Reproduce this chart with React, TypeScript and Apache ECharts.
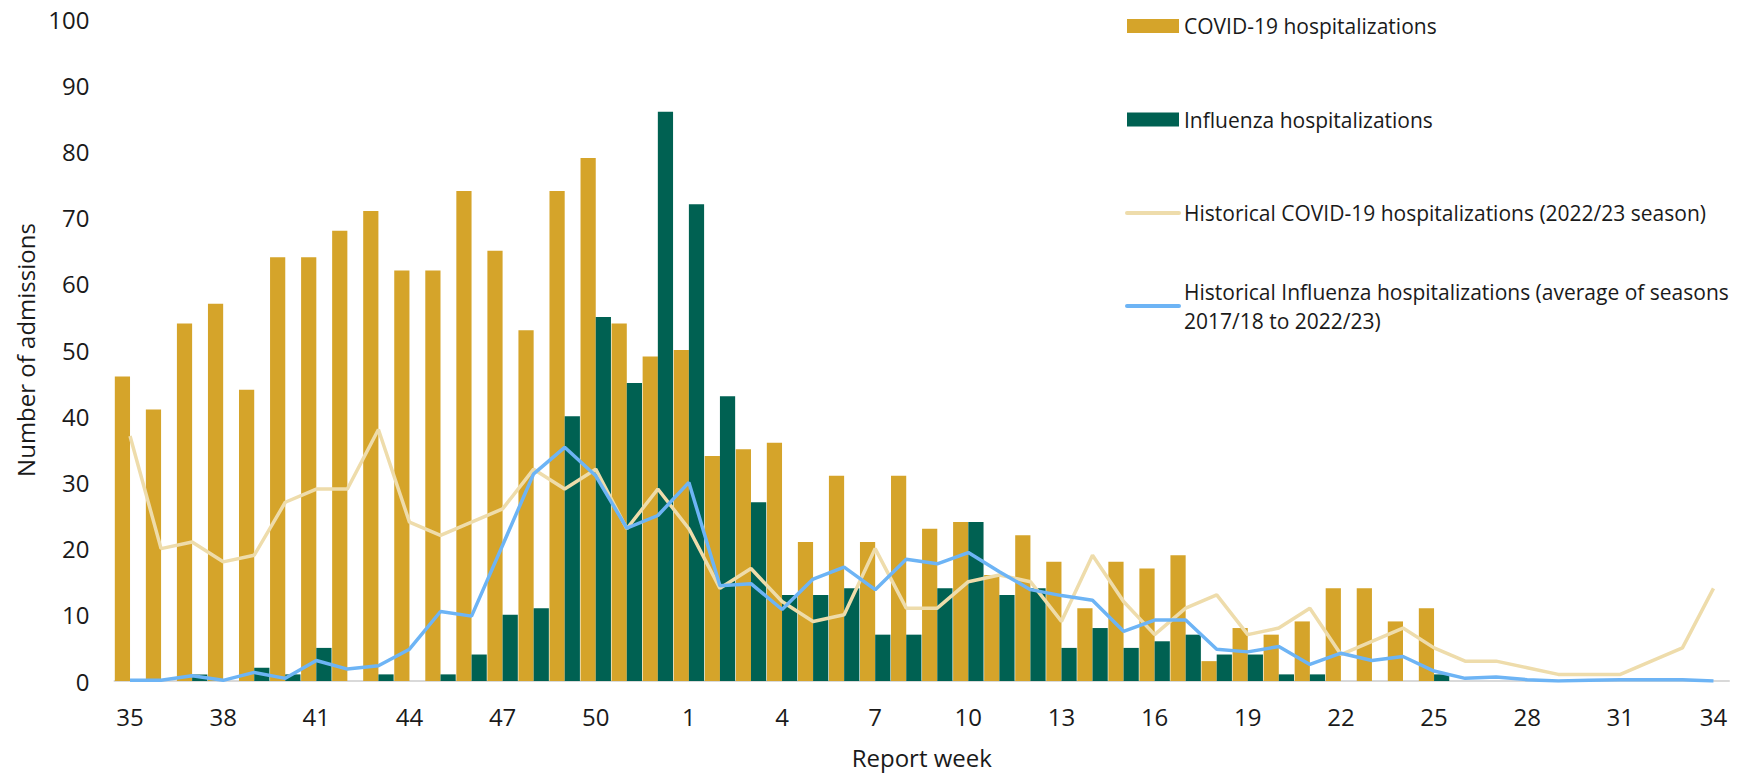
import React, { useEffect, useRef } from "react";
import * as echarts from "echarts";

const weeks = [
  "35", "36", "37", "38", "39", "40", "41", "42", "43", "44", "45", "46", "47", "48", "49", "50", "51", "52",
  "1", "2", "3", "4", "5", "6", "7", "8", "9", "10", "11", "12", "13", "14", "15", "16", "17", "18", "19", "20",
  "21", "22", "23", "24", "25", "26", "27", "28", "29", "30", "31", "32", "33", "34",
];

const covid = [
  46, 41, 54, 57, 44, 64, 64, 68, 71, 62, 62, 74, 65, 53, 74, 79, 54, 49,
  50, 34, 35, 36, 21, 31, 21, 31, 23, 24, 16, 22, 18, 11, 18, 17, 19, 3, 8, 7, 9, 14, 14, 9, 11,
  0, 0, 0, 0, 0, 0, 0, 0, 0,
];

const influenza = [
  0, 0, 1, 0, 2, 1, 5, 0, 1, 0, 1, 4, 10, 11, 40, 55, 45, 86,
  72, 43, 27, 13, 13, 14, 7, 7, 14, 24, 13, 14, 5, 8, 5, 6, 7, 4, 4, 1, 1, 0, 0, 0, 1,
  0, 0, 0, 0, 0, 0, 0, 0, 0,
];

const histCovid = [
  37, 20, 21, 18, 19, 27, 29, 29, 38, 24, 22, 24, 26, 32, 29, 32, 23, 29,
  23, 14, 17, 12, 9, 10, 20, 11, 11, 15, 16, 15, 9, 19, 12, 7, 11, 13, 7, 8, 11, 4, 6, 8, 5,
  3, 3, 2, 1, 1, 1, 3, 5, 14,
];

const histFlu = [
  0.1, 0.1, 0.8, 0.1, 1.3, 0.4, 3.1, 1.8, 2.3, 4.8, 10.5, 9.8, 20.5, 31.3, 35.3, 31, 23.1, 25,
  30, 14.4, 14.7, 10.8, 15.4, 17.2, 13.8, 18.4, 17.7, 19.4, 16.5, 13.8, 12.9, 12.2, 7.5, 9.2, 9.2, 4.8, 4.4, 5.2, 2.5, 4.2, 3.1, 3.7, 1.5,
  0.4, 0.6, 0.2, 0, 0.1, 0.2, 0.2, 0.2, 0,
];

const NAME_COVID = "COVID-19 hospitalizations";
const NAME_FLU = "Influenza hospitalizations";
const NAME_HCOVID = "Historical COVID-19 hospitalizations (2022/23 season)";
const NAME_HFLU = "Historical Influenza hospitalizations (average of seasons\n2017/18 to 2022/23)";

const FONT = "'Open Sans', 'Noto Sans', sans-serif";
const TEXT = "#1a1a1a";
const C_COVID = "#d5a42a";
const C_FLU = "#006152";
const C_HCOVID = "#eedcab";
const C_HFLU = "#6db4f5";

export default function App() {
  const ref = useRef<HTMLDivElement>(null);

  useEffect(() => {
    if (!ref.current) return;
    const chart = echarts.init(ref.current, null, { renderer: "svg" });
    const lineLegend = (name: string, color: string) => ({
      name,
      itemStyle: { opacity: 0 },
      lineStyle: { color, width: 4, cap: "round", opacity: 1 },
    });
    chart.setOption({
      animation: false,
      backgroundColor: "#ffffff",
      textStyle: { fontFamily: FONT, color: TEXT },
      grid: { left: 114.5, right: 25, top: 19, bottom: 89, containLabel: false },
      legend: [
        {
          orient: "vertical",
          left: 1125,
          top: 11.5,
          padding: 0,
          itemWidth: 52,
          itemHeight: 14,
          itemGap: 64.5,
          textStyle: { fontFamily: FONT, fontSize: 21, color: TEXT, lineHeight: 29 },
          data: [
            { name: NAME_COVID, icon: "rect" },
            { name: NAME_FLU, icon: "rect" },
            lineLegend(NAME_HCOVID, C_HCOVID),
          ],
        },
        {
          orient: "vertical",
          left: 1125,
          top: 262.5,
          padding: 0,
          itemWidth: 52,
          itemHeight: 14,
          textStyle: { fontFamily: FONT, fontSize: 21, color: TEXT, lineHeight: 29, padding: [29, 0, 0, 0] },
          data: [lineLegend(NAME_HFLU, C_HFLU)],
        },
      ],
      xAxis: {
        type: "category",
        data: weeks,
        boundaryGap: true,
        name: "Report week",
        nameLocation: "middle",
        nameGap: 64,
        nameTextStyle: { fontFamily: FONT, fontSize: 24, color: TEXT },
        axisLine: { show: true, lineStyle: { color: "#d9d9d9", width: 2 } },
        axisTick: { show: false },
        axisLabel: { interval: 2, margin: 23, fontFamily: FONT, fontSize: 24, color: TEXT },
        splitLine: { show: false },
      },
      yAxis: {
        type: "value",
        min: 0,
        max: 100,
        interval: 10,
        name: "Number of admissions",
        nameLocation: "middle",
        nameGap: 77,
        nameTextStyle: { fontFamily: FONT, fontSize: 24, color: TEXT },
        axisLine: { show: false },
        axisTick: { show: false },
        axisLabel: { margin: 25, fontFamily: FONT, fontSize: 24, color: TEXT },
        splitLine: { show: false },
      },
      series: [
        {
          name: NAME_COVID,
          type: "bar",
          data: covid,
          barCategoryGap: "2%",
          barGap: "0%",
          itemStyle: { color: C_COVID },
        },
        {
          name: NAME_FLU,
          type: "bar",
          data: influenza,
          barCategoryGap: "2%",
          barGap: "0%",
          itemStyle: { color: C_FLU },
        },
        {
          name: NAME_HCOVID,
          type: "line",
          data: histCovid,
          symbol: "none",
          lineStyle: { color: C_HCOVID, width: 3.5 },
          itemStyle: { color: C_HCOVID },
        },
        {
          name: NAME_HFLU,
          type: "line",
          data: histFlu,
          symbol: "none",
          lineStyle: { color: C_HFLU, width: 3.5 },
          itemStyle: { color: C_HFLU },
        },
      ],
    });
    return () => chart.dispose();
  }, []);

  return <div ref={ref} style={{ width: 1754, height: 774, position: "absolute", left: 0, top: 0 }} />;
}
